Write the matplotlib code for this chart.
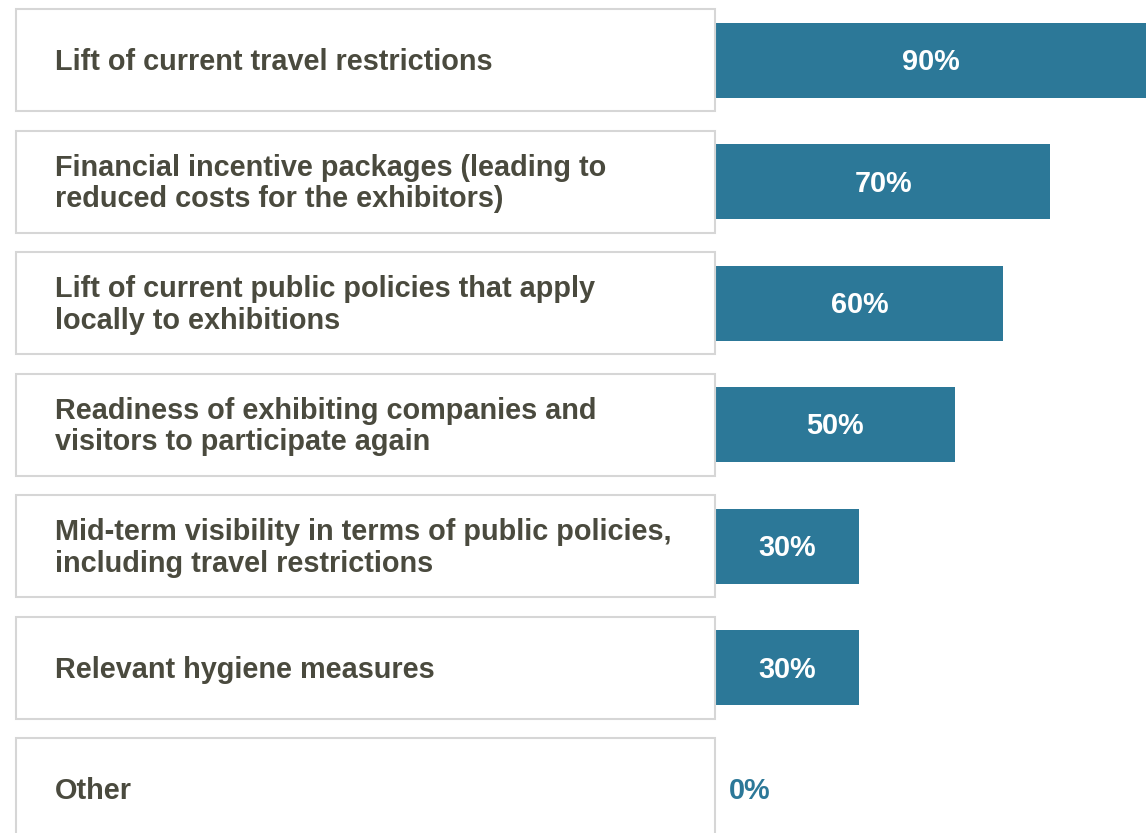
import matplotlib
matplotlib.use("Agg")
import matplotlib.pyplot as plt
from matplotlib.patches import Rectangle
import matplotlib.transforms as mtransforms

categories = [
    "Lift of current travel restrictions",
    "Financial incentive packages (leading to\nreduced costs for the exhibitors)",
    "Lift of current public policies that apply\nlocally to exhibitions",
    "Readiness of exhibiting companies and\nvisitors to participate again",
    "Mid-term visibility in terms of public policies,\nincluding travel restrictions",
    "Relevant hygiene measures",
    "Other",
]
values = [90, 70, 60, 50, 30, 30, 0]
value_labels = ["90%", "70%", "60%", "50%", "30%", "30%", "0%"]

BAR = "#2c7898"
TXT = "#4a4a3e"
EDGE = "#d6d6d6"
FONT = "Liberation Sans"
FS = 20.8

W, H = 1148, 833
fig = plt.figure(figsize=(W / 100, H / 100), dpi=100)
ax = fig.add_axes([0, 0, 1, 1])

px_per_pct = 430 / 90.0
x0_px = 716
ax.set_xlim(-x0_px / px_per_pct, (W - x0_px) / px_per_pct)
pitch = 121.5
c0 = 60
ax.set_ylim((H - c0) / pitch, -c0 / pitch)
ax.axis("off")

ypos = list(range(len(categories)))
ax.barh(ypos, values, height=75 / pitch, color=BAR, left=0)

trans = mtransforms.blended_transform_factory(ax.transAxes, ax.transData)
off = mtransforms.ScaledTranslation(0, -2 / 100, fig.dpi_scale_trans)
box_h = 102 / pitch
for y, cat in zip(ypos, categories):
    ax.add_patch(Rectangle((16 / W, y - box_h / 2), (715 - 16) / W, box_h,
                           transform=trans, facecolor="white", edgecolor=EDGE,
                           linewidth=1.5, clip_on=True))
    ax.text(55 / W, y, cat, transform=trans + off, ha="left", va="center",
            fontsize=FS, fontweight="bold", color=TXT, family=FONT,
            linespacing=1.16)

for y, v, lab in zip(ypos, values, value_labels):
    if v > 0:
        ax.text(v / 2, y, lab, ha="center", va="center", fontsize=FS,
                fontweight="bold", color="white", family=FONT,
                transform=ax.transData + off)
    else:
        ax.text(13 / px_per_pct, y, lab, ha="left", va="center", fontsize=FS,
                fontweight="bold", color=BAR, family=FONT,
                transform=ax.transData + off)

fig.savefig("out.png", dpi=100, facecolor="white")
